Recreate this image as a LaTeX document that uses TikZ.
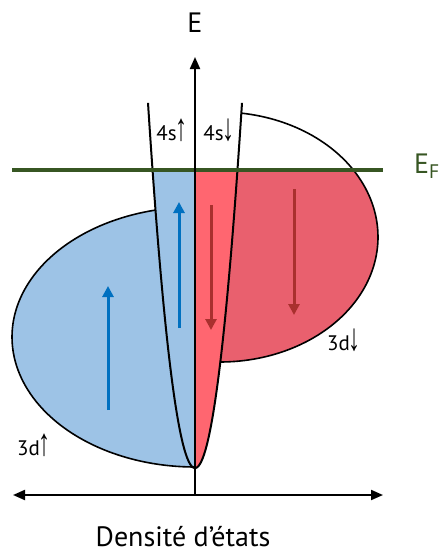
\documentclass[tikz,border=0pt]{standalone}
\usepackage{fontspec}
\usepackage{graphicx}
\setmainfont{PT Sans}
\newfontfamily\arrowfont{Liberation Sans}
\usetikzlibrary{arrows.meta}
\definecolor{bluefill}{HTML}{9DC3E6}
\definecolor{pinkband}{HTML}{FF6670}
\definecolor{pinklobe}{HTML}{E9606E}
\definecolor{bluearrow}{HTML}{0070C0}
\definecolor{redarrow}{HTML}{A9302E}
\definecolor{fermigreen}{HTML}{375623}
\newcommand{\spinarrow}[1]{{\fontsize{24}{24}\arrowfont\kern-1pt\scalebox{1}[1.6]{#1}}}
\begin{document}
\begin{tikzpicture}[x=1pt,y=-1pt,
  axis/.style={line width=2pt,-{Triangle[length=12pt,width=10pt]}},
  outline/.style={line width=1.6pt},
  bluearr/.style={draw=bluearrow,line width=3pt,-{Triangle[length=11pt,width=11pt]}},
  redarr/.style={draw=redarrow,line width=3pt,-{Triangle[length=11pt,width=11pt]}},
  lbl/.style={font=\fontsize{21}{24}\selectfont, inner sep=0pt, anchor=base},
  big/.style={font=\fontsize{28}{32}\selectfont, inner sep=0pt},
]
\useasboundingbox (0,0) rectangle (440,554);
% fills
\fill[bluefill] plot[domain=90:270,samples=90] ({195+183*cos(\x)},{337+130*sin(\x)}) -- cycle;
\fill[bluefill] (195,170) -- plot[domain=-42.47:0,samples=60] ({195+\x},{468-\x*\x/6.05}) -- cycle;
\begin{scope}
  \clip (195,170) rectangle (440,554);
  \fill[pinklobe] (220,237) ellipse [x radius=158, y radius=125];
\end{scope}
\fill[pinkband] (195,170) -- plot[domain=42.47:0,samples=60] ({195+\x},{468-\x*\x/6.05}) -- cycle;
% outlines
\draw[outline] plot[domain=90:257.5,samples=90] ({195+183*cos(\x)},{337+130*sin(\x)});
\draw[outline] plot[domain=278:450,samples=100] ({220+158*cos(\x)},{237+125*sin(\x)});
\draw[line width=2pt] plot[domain=-47:47,samples=121] ({195+\x},{468-\x*\x/6.05});
% Fermi level
\coordinate (F1) at (12,170);
\coordinate (F2) at (383,170);
\draw[fermigreen, line width=3.5pt] (F1) -- (F2);
\node[big, anchor=west, text=fermigreen] (EF) at (414,166) {E\textsubscript{F}};
% axes
\coordinate (O) at (195,495);
\coordinate (Etop) at (195,57);
\coordinate (Xl) at (13,495);
\coordinate (Xr) at (383,495);
\draw[axis] (O) -- (Etop);
\draw[line width=2pt,{Triangle[length=12pt,width=10pt]}-{Triangle[length=12pt,width=10pt]}] (Xl) -- (Xr);
% spin arrows
\draw[bluearr] (179,328) -- (179,202);
\draw[bluearr] (108,410) -- (108,286);
\draw[redarr] (211,205) -- (211,330);
\draw[redarr] (294,189) -- (294,315);
% labels
\node[big] (E) at (195,23) {E};
\node[lbl] (s4up) at (172,140) {4s\spinarrow{↑}};
\node[lbl] (s4dn) at (219,140) {4s\spinarrow{↓}};
\node[lbl] (d3up) at (34,455) {3d\spinarrow{↑}};
\node[lbl] (d3dn) at (344,350) {3d\spinarrow{↓}};
\node[big, anchor=base] (dos) at (183,546) {Densité d’états};
\end{tikzpicture}
\end{document}
